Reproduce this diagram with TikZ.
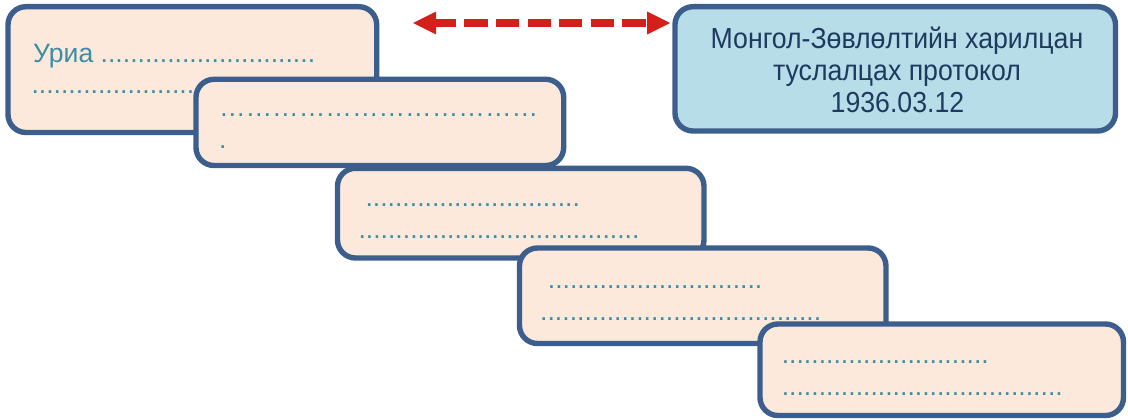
\documentclass[tikz,border=0pt]{standalone}
\usepackage{fontspec}
\setmainfont{Liberation Sans}
\usetikzlibrary{arrows.meta}
\definecolor{boxline}{RGB}{60,94,140}
\definecolor{peach}{RGB}{252,233,219}
\definecolor{lightblue}{RGB}{183,221,232}
\definecolor{dotteal}{RGB}{58,142,165}
\definecolor{navytext}{RGB}{30,58,95}
\definecolor{arrowred}{RGB}{212,32,26}
\tikzset{
  box/.style={draw=boxline, line width=5.4pt, rounded corners=18pt, fill=peach,
              inner sep=0pt, outer sep=0pt},
  bluebox/.style={box, fill=lightblue},
  tline/.style={anchor=base west, inner sep=0pt, text=dotteal,
                font=\fontsize{26.6}{30}\selectfont},
  bline/.style={anchor=base, inner sep=0pt, text=navytext,
                font=\fontsize{29}{31.5}\selectfont},
  link/.style={draw=arrowred, line width=7.3pt,
               dash pattern=on 23.3pt off 8.3pt, dash phase=3.3pt,
               {Triangle[length=23pt,width=23pt,line width=0pt]}-{Triangle[length=23pt,width=23pt,line width=0pt]}}
}
\begin{document}
\begin{tikzpicture}[x=1pt,y=-1pt]
\useasboundingbox (0,0) rectangle (1128,420);
% blue box
\node[bluebox, minimum width=440.5pt, minimum height=124.3pt] (blue) at (895.25,68.85) {};
\node[bline] (bt1) at (897,49) {\scalebox{0.92}[1]{Монгол-Зөвлөлтийн харилцан}};
\node[bline] (bt2) at (897,80.5) {\scalebox{0.92}[1]{туслалцах протокол}};
\node[bline] (bt3) at (897.5,112) {\scalebox{0.92}[1]{1936.03.12}};
% arrow
\coordinate (arrowL) at (413,23);
\draw[link, shorten >=5pt] (arrowL) -- (arrowL -| blue.west);
% box 1
\node[box, minimum width=368.7pt, minimum height=125.8pt] (b1) at (192.35,69.6) {};
\node[tline] (b1t1) at (33,63) {Уриа .............................};
\node[tline] (b1t2) at (31.3,93) {......................................};
% box 2
\node[box, minimum width=367.7pt, minimum height=86.2pt] (b2) at (379.85,122.4) {};
\node[tline] (b2t1) at (218.8,116.8) {…………\kern0pt…………\kern0pt…………};
\node[tline] (b2t2) at (219,148.6) {.};
% box 3
\node[box, minimum width=366.5pt, minimum height=89.7pt] (b3) at (520.75,213.15) {};
\node[tline] (b3t1) at (365.3,206.3) {.............................};
\node[tline] (b3t2) at (358.3,238.6) {......................................};
% box 4
\node[box, minimum width=366.5pt, minimum height=95.5pt] (b4) at (702.75,295.75) {};
\node[tline] (b4t1) at (547.7,288.6) {.............................};
\node[tline] (b4t2) at (540,320.6) {......................................};
% box 5
\node[box, minimum width=363.5pt, minimum height=91.5pt] (b5) at (941.75,369.75) {};
\node[tline] (b5t1) at (781.6,363.3) {............................};
\node[tline] (b5t2) at (781.6,395.6) {......................................};
\end{tikzpicture}
\end{document}
